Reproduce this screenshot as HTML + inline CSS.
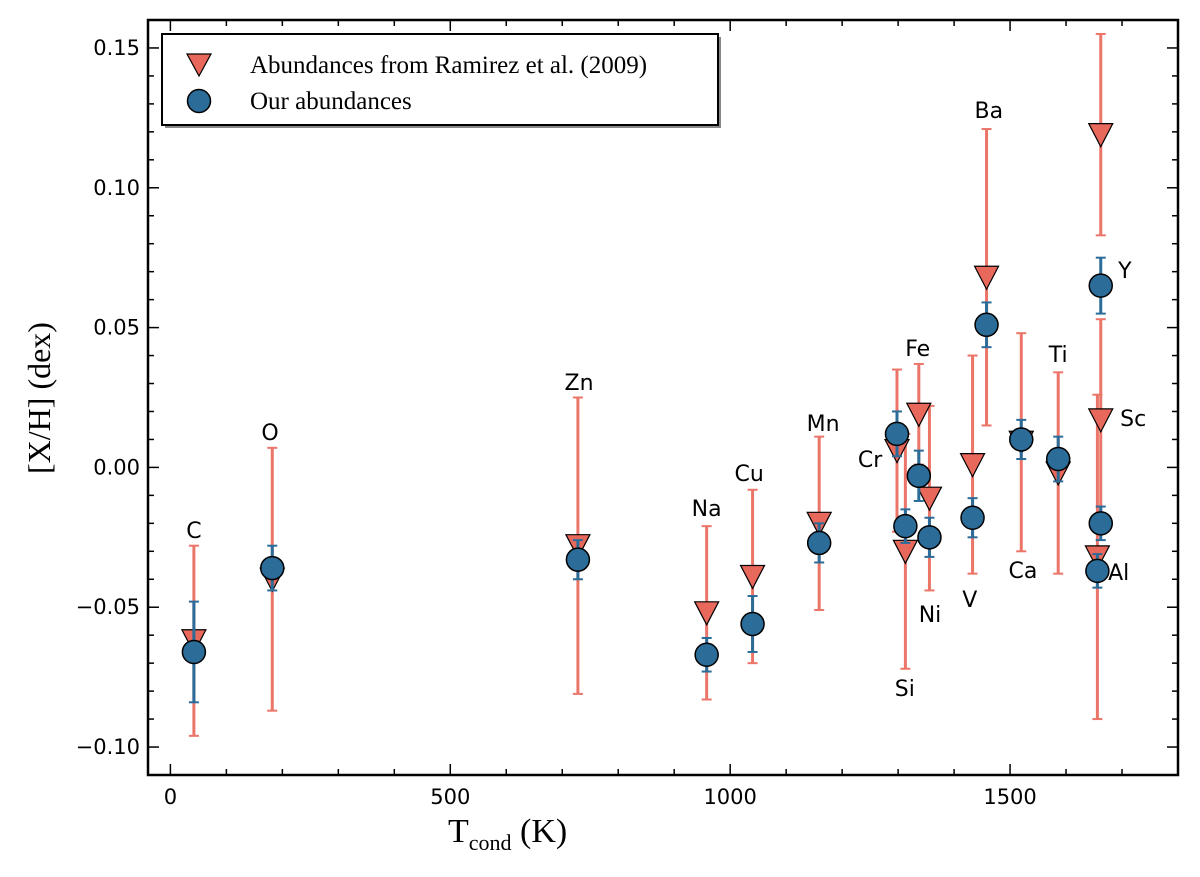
<!DOCTYPE html>
<html><head><meta charset="utf-8"><style>
html,body{margin:0;padding:0;background:#fff;}
svg{display:block;}
.tk{font-family:"DejaVu Sans","Liberation Sans",sans-serif;font-size:21px;fill:#000;}
.el{font-family:"DejaVu Sans","Liberation Sans",sans-serif;font-size:22px;fill:#000;}
.ser{font-family:"Liberation Serif","DejaVu Serif",serif;fill:#000;}
</style></head><body>
<svg id="chart" width="1200" height="877" viewBox="0 0 1200 877" xmlns="http://www.w3.org/2000/svg">
<rect x="0" y="0" width="1200" height="877" fill="#fff"/>
<g id="marks"></g>
<g id="axes"></g>
<g id="legend">
<rect x="165" y="37" width="556" height="91" fill="#888"/>
<rect x="162" y="34" width="556" height="91" fill="#fff" stroke="#000" stroke-width="2"/>
<polygon points="187,54 211,54 199,76" fill="#e8695b" stroke="#000" stroke-width="1.2"/>
<text x="250" y="73" class="ser" font-size="25">Abundances from Ramirez et al. (2009)</text>
<circle cx="199" cy="101" r="11.5" fill="#2b6c99" stroke="#000" stroke-width="1.5"/>
<text x="250" y="109" class="ser" font-size="25">Our abundances</text>
</g>
<text x="448" y="842" class="ser" font-size="34">T<tspan font-size="22" dy="8">cond</tspan><tspan dy="-8"> (K)</tspan></text>
<text transform="translate(50,398) rotate(-90)" text-anchor="middle" class="ser" font-size="32">[X/H] (dex)</text>
</svg>
<script>
const elements = ["C","O","Zn","Na","Cu","Mn","Cr","Si","Fe","Ni","V","Ba","Ca","Ti","Sc","Y","Al"];
const tcond = [42,182,728,958,1040,1159,1298,1313,1337,1356,1433,1458,1520,1586,1662,1662,1656];
const ramirezVals = [-0.062,-0.040,-0.028,-0.052,-0.039,-0.020,0.006,-0.030,0.019,-0.011,0.001,0.068,0.009,-0.002,0.017,0.119,-0.032];
const ramirezErr = [0.034,0.047,0.053,0.031,0.031,0.031,0.029,0.042,0.018,0.033,0.039,0.053,0.039,0.036,0.036,0.036,0.058];
const oursVals = [-0.066,-0.036,-0.033,-0.067,-0.056,-0.027,0.012,-0.021,-0.003,-0.025,-0.018,0.051,0.010,0.003,-0.020,0.065,-0.037];
const oursErr = [0.018,0.008,0.007,0.006,0.010,0.007,0.008,0.006,0.009,0.007,0.007,0.008,0.007,0.008,0.006,0.010,0.006];
const labelT = [42,178,730,958,1034,1166,1250,1312,1335,1357,1428,1462,1523,1586,1720,1705,1694];
const labelV = [-0.0224,0.0126,0.0305,-0.0145,-0.0020,0.0159,0.0030,-0.0789,0.0427,-0.0524,-0.0471,0.1278,-0.0367,0.0405,0.0177,0.0706,-0.0374];
const xTicks = [0,500,1000,1500];
const yTicks = [-0.10,-0.05,0.00,0.05,0.10,0.15];
const yTickLabels = ["\u22120.10","\u22120.05","0.00","0.05","0.10","0.15"];

const X0=148,X1=1178,Y0=20,Y1=775,TMIN=-40,TMAX=1800,VMIN=-0.11,VMAX=0.16;
function xs(t){return X0+(t-TMIN)/(TMAX-TMIN)*(X1-X0);}
function ys(v){return Y1-(v-VMIN)/(VMAX-VMIN)*(Y1-Y0);}
const NS="http://www.w3.org/2000/svg";
function mk(tag,attrs,parent){const e=document.createElementNS(NS,tag);for(const k in attrs)e.setAttribute(k,attrs[k]);parent.appendChild(e);return e;}
const marks=document.getElementById('marks'), axes=document.getElementById('axes');
const RED="#e8695b", REDBAR="#eb7569", BLUE="#2b6c99";

function errbar(t,v,err,color,name){
  const g=mk('g',{},marks);
  
  
  const x=xs(t);
  mk('line',{x1:x,x2:x,y1:ys(v-err),y2:ys(v+err),stroke:color,'stroke-width':3},g);
  mk('line',{x1:x-5,x2:x+5,y1:ys(v-err),y2:ys(v-err),stroke:color,'stroke-width':2},g);
  mk('line',{x1:x-5,x2:x+5,y1:ys(v+err),y2:ys(v+err),stroke:color,'stroke-width':2},g);
}
for(let i=0;i<elements.length;i++) errbar(tcond[i],ramirezVals[i],ramirezErr[i],REDBAR,'ramirez-errorbar-'+elements[i].toLowerCase());
for(let i=0;i<elements.length;i++){
  const x=xs(tcond[i]), y=ys(ramirezVals[i]);
  const p=mk('polygon',{points:(x-12)+','+(y-11)+' '+(x+12)+','+(y-11)+' '+x+','+(y+12),fill:RED,stroke:'#000','stroke-width':1.2},marks);
  
  
}
for(let i=0;i<elements.length;i++) errbar(tcond[i],oursVals[i],oursErr[i],BLUE,'our-errorbar-'+elements[i].toLowerCase());
for(let i=0;i<elements.length;i++){
  const c=mk('circle',{cx:xs(tcond[i]),cy:ys(oursVals[i]),r:11.5,fill:BLUE,stroke:'#000','stroke-width':1.5},marks);
  
  
}
for(let i=0;i<elements.length;i++){
  const t=mk('text',{x:xs(labelT[i]),y:ys(labelV[i])+8,'text-anchor':'middle',class:'el'},marks);
  t.textContent=elements[i];
  
  
}
const fr=mk('rect',{x:X0,y:Y0,width:X1-X0,height:Y1-Y0,fill:'none',stroke:'#000','stroke-width':2.5},axes);


for(let t=0;t<=TMAX;t+=100){
  const x=xs(t), L=(t%500===0)?11:6;
  mk('line',{x1:x,x2:x,y1:Y1,y2:Y1-L,stroke:'#000','stroke-width':1.5},axes);
  mk('line',{x1:x,x2:x,y1:Y0,y2:Y0+L,stroke:'#000','stroke-width':1.5},axes);
}
xTicks.forEach(t=>{
  const e=mk('text',{x:xs(t),y:Y1+29,'text-anchor':'middle',class:'tk'},axes);
  e.textContent=String(t);
  
  
});
for(let k=-11;k<=16;k++){
  const v=k/100, y=ys(v), L=(k%5===0)?11:6;
  mk('line',{x1:X0,x2:X0+L,y1:y,y2:y,stroke:'#000','stroke-width':1.5},axes);
  mk('line',{x1:X1,x2:X1-L,y1:y,y2:y,stroke:'#000','stroke-width':1.5},axes);
}
yTicks.forEach((v,i)=>{
  const e=mk('text',{x:X0-8,y:ys(v)+7,'text-anchor':'end',class:'tk'},axes);
  e.textContent=yTickLabels[i];
  
  
});
</script>
</body></html>
